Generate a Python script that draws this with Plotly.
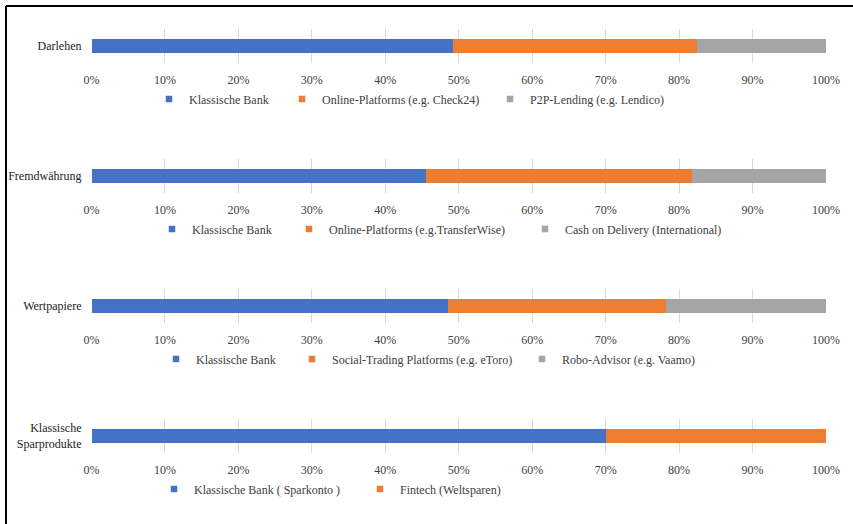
import plotly.graph_objects as go

W, H = 853, 524

# ---------------- data ----------------
categories = ["Darlehen", "Fremdwährung", "Wertpapiere", "Klassische<br>Sparprodukte"]

darlehen_names = ["Klassische Bank", "Online-Platforms (e.g. Check24)", "P2P-Lending (e.g. Lendico)"]
darlehen_values = [49.2, 33.2, 17.6]

fremd_names = ["Klassische Bank", "Online-Platforms (e.g.TransferWise)", "Cash on Delivery (International)"]
fremd_values = [45.6, 36.2, 18.2]

wert_names = ["Klassische Bank", "Social-Trading Platforms (e.g. eToro)", "Robo-Advisor (e.g. Vaamo)"]
wert_values = [48.6, 29.6, 21.8]

spar_names = ["Klassische Bank ( Sparkonto )", "Fintech (Weltsparen)"]
spar_values = [70.0, 30.0]

tick_values = [0, 10, 20, 30, 40, 50, 60, 70, 80, 90, 100]
tick_labels = [f"{v}%" for v in tick_values]

colors = ["#4472C4", "#ED7D31", "#A5A5A5"]

groups = [
    (categories[0], darlehen_names, darlehen_values),
    (categories[1], fremd_names, fremd_values),
    (categories[2], wert_names, wert_values),
    (categories[3], spar_names, spar_values),
]

# ---------------- layout geometry (pixels) ----------------
plot_left, plot_right = 91.5, 826
panel_px = [(29, 63), (159, 193), (289, 323), (419, 453)]
legend_text_y = [99, 229, 359, 489]
legend_text_x = [
    [186, 319, 527],
    [189, 326, 562],
    [193, 329, 559],
    [191, 397],
]

FONT = "'Liberation Serif', 'Times New Roman', Times, serif"
TXT = "#404040"

fig = go.Figure()
layout = dict(
    width=W, height=H,
    margin=dict(l=0, r=0, t=0, b=0, autoexpand=False),
    paper_bgcolor="white", plot_bgcolor="white",
    barmode="stack", bargap=0.58,
    font=dict(family=FONT, size=12, color=TXT),
    showlegend=True,
)

legend_idx = 0
for i, (cat, names, vals) in enumerate(groups):
    n = i + 1
    xa = "x" if n == 1 else f"x{n}"
    ya = "y" if n == 1 else f"y{n}"
    for j, (nm, v) in enumerate(zip(names, vals)):
        fig.add_trace(go.Bar(
            x=[v], y=[cat], orientation="h", name=nm,
            marker=dict(color=colors[j], line=dict(width=0)),
            xaxis=xa, yaxis=ya, showlegend=False,
            hovertemplate=f"{nm}: %{{x:.1f}}%<extra></extra>",
        ))
        legend_idx += 1
        lg = "legend" if legend_idx == 1 else f"legend{legend_idx}"
        fig.add_trace(go.Scatter(
            x=[None], y=[None], mode="markers", name=nm,
            marker=dict(symbol="square", size=6.5, color=colors[j]),
            xaxis=xa, yaxis=ya, legend=lg, showlegend=True,
        ))
        layout[lg] = dict(
            orientation="h",
            x=(legend_text_x[i][j] - 37) / W, xanchor="left",
            y=1 - legend_text_y[i] / H, yanchor="middle",
            bgcolor="rgba(0,0,0,0)", borderwidth=0,
            font=dict(family=FONT, size=12, color=TXT),
        )

    top, bottom = panel_px[i]
    xkey = "xaxis" if n == 1 else f"xaxis{n}"
    ykey = "yaxis" if n == 1 else f"yaxis{n}"
    layout[xkey] = dict(
        domain=[plot_left / W, plot_right / W], anchor=ya,
        range=[0, 100], tickmode="array", tickvals=tick_values, ticktext=tick_labels,
        showgrid=True, gridcolor="#D9D9D9", gridwidth=1,
        zeroline=False, showline=False, ticks="", automargin=False,
        ticklabelstandoff=8, fixedrange=True,
        tickfont=dict(family=FONT, size=12, color=TXT),
    )
    layout[ykey] = dict(
        domain=[1 - bottom / H, 1 - top / H], anchor=xa,
        type="category", range=[-0.5, 0.5], automargin=False,
        showgrid=False, zeroline=False, showline=False, ticks="",
        ticklabelstandoff=9, fixedrange=True,
        tickfont=dict(family=FONT, size=12, color="#222222"),
    )

layout["shapes"] = [
    dict(type="line", xref="paper", yref="paper",
         x0=6 / W, y0=1 - 6 / H, x1=1, y1=1 - 6 / H,
         line=dict(color="black", width=2)),
    dict(type="line", xref="paper", yref="paper",
         x0=6 / W, y0=0, x1=6 / W, y1=1 - 6 / H,
         line=dict(color="black", width=2)),
]

fig.update_layout(**layout)
fig.write_html("out.html")
